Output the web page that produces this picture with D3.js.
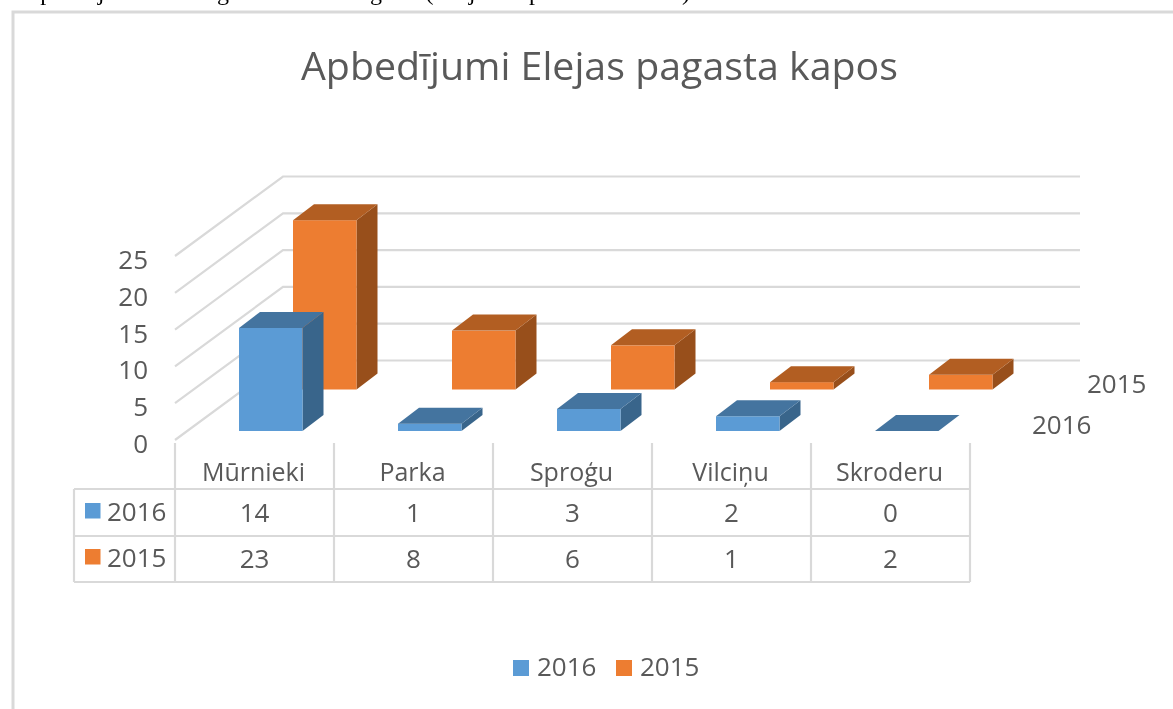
<!DOCTYPE html>
<html>
<head>
<meta charset="utf-8">
<script src="https://cdn.jsdelivr.net/npm/d3@7"></script>
<style>
html,body{margin:0;padding:0;background:#fff;overflow:hidden}
svg{display:block;filter:blur(0.55px)}
text{font-family:"Open Sans","Noto Sans",sans-serif;fill:#595959}
</style>
</head>
<body>
<svg id="chart" width="1173" height="709"></svg>
<script>
const chartTitle = "Apbedījumi Elejas pagasta kapos";
const captionText = "Apbedījumi 2016. gadā un 2015. gadā (Elejas kapos 2016/2015)";
const categories = ["Mūrnieki", "Parka", "Sproģu", "Vilciņu", "Skroderu"];
const seriesNames = ["2015", "2016"];
const values2016 = [14, 1, 3, 2, 0];
const values2015 = [23, 8, 6, 1, 2];
const yTicks = [0, 5, 10, 15, 20, 25];
const frontColors = {"2016": "#5B9BD5", "2015": "#ED7D31"};
const topColors = {"2016": "#44749F", "2015": "#B25E22"};
const sideColors = {"2016": "#39658B", "2015": "#984F1B"};

const svg = d3.select("#chart");
const valuesBySeries = {"2016": values2016, "2015": values2015};

// scales
const unit = d3.scaleLinear().domain([0, 25]).range([0, 184]);   // height of a value
const xBand = d3.scaleBand().domain(categories).range([175, 970]); // table columns / categories
const depthX = d3.scalePoint().domain(["2016", "2015"]).range([0, 54]);
const depthY = d3.scalePoint().domain(["2016", "2015"]).range([431, 389.5]);
const barW = 63.5, dx = 21, dy = 16;

const grid = "#D9D9D9";

// frame
svg.append("path").attr("d", "M13 709V12H1173").attr("fill", "none").attr("stroke", grid).attr("stroke-width", 3);

// clipped caption line
svg.append("text").attr("x", 22).attr("y", 0)
  .style("font-family", "'Liberation Serif',serif").style("fill", "#000").style("font-size", "24px")
  .attr("textLength", 668).text(captionText);

// title
svg.append("text").attr("x", 599.5).attr("y", 80).attr("text-anchor", "middle")
  .style("font-size", "38px").attr("textLength", 597).attr("lengthAdjust", "spacingAndGlyphs").text(chartTitle);

// walls
const wallG = svg.append("g").attr("fill", "none").attr("stroke", grid).attr("stroke-width", 2.2);
yTicks.forEach(t => {
  const yBack = 360.5 - unit(t);
  const yFront = 440 - unit(t);
  wallG.append("path").attr("d", `M175 ${yFront}L283 ${yBack}L1080 ${yBack}`);
});

// y axis labels
const tickG = svg.append("g");
yTicks.forEach(t => {
  tickG.append("text").attr("x", 148).attr("y", 453 - unit(t)).attr("text-anchor", "end")
    .style("font-size", "26px").text(t);
});

// bars: back series first
seriesNames.forEach(s => {
  const g = svg.append("g");
  categories.forEach((c, i) => {
    const v = valuesBySeries[s][i];
    const x0 = xBand(c) + 64 + depthX(s);
    const yb = depthY(s);
    const yt = yb - unit(v);
    if (v > 0) {
      g.append("path").attr("fill", sideColors[s])
        .attr("d", `M${x0 + barW} ${yb}L${x0 + barW + dx} ${yb - dy}L${x0 + barW + dx} ${yt - dy}L${x0 + barW} ${yt}Z`);
      g.append("rect").attr("fill", frontColors[s]).attr("x", x0).attr("y", yt).attr("width", barW).attr("height", yb - yt);
    }
    g.append("path").attr("fill", topColors[s])
      .attr("d", `M${x0} ${yt}L${x0 + dx} ${yt - dy}L${x0 + barW + dx} ${yt - dy}L${x0 + barW} ${yt}Z`);
  });
});

// depth axis labels
svg.append("text").attr("x", 1087).attr("y", 393).style("font-size", "26px").text("2015");
svg.append("text").attr("x", 1032).attr("y", 434).style("font-size", "26px").text("2016");

// data table
const rowY = [489, 536, 582];
const tableG = svg.append("g").attr("stroke", grid).attr("stroke-width", 2.2).attr("fill", "none");
rowY.forEach(y => tableG.append("line").attr("x1", 74).attr("x2", 970).attr("y1", y).attr("y2", y));
tableG.append("line").attr("x1", 74).attr("x2", 74).attr("y1", 489).attr("y2", 582);
categories.concat(["end"]).forEach((c, i) => {
  const x = 175 + i * xBand.bandwidth();
  tableG.append("line").attr("x1", x).attr("x2", x).attr("y1", 443).attr("y2", 582);
});
categories.forEach(c => {
  const cx = xBand(c) + xBand.bandwidth() / 2;
  svg.append("text").attr("x", cx - 1).attr("y", 481).attr("text-anchor", "middle").style("font-size", "25px").text(c);
});
[["2016", values2016, 521], ["2015", values2015, 567]].forEach(([name, vals, y]) => {
  svg.append("rect").attr("x", 85).attr("y", y - 18).attr("width", 15.5).attr("height", 15.5).attr("fill", frontColors[name]);
  svg.append("text").attr("x", 107).attr("y", y).style("font-size", "26px").text(name);
  categories.forEach((c, i) => {
    svg.append("text").attr("x", xBand(c) + xBand.bandwidth() / 2).attr("y", y + 0.5).attr("text-anchor", "middle")
      .style("font-size", "26px").text(vals[i]);
  });
});

// legend
[["2016", 513, 537], ["2015", 616, 640]].forEach(([name, kx, tx]) => {
  svg.append("rect").attr("x", kx).attr("y", 660).attr("width", 16).attr("height", 16).attr("fill", frontColors[name]);
  svg.append("text").attr("x", tx).attr("y", 676).style("font-size", "26px").text(name);
});
</script>
</body>
</html>
